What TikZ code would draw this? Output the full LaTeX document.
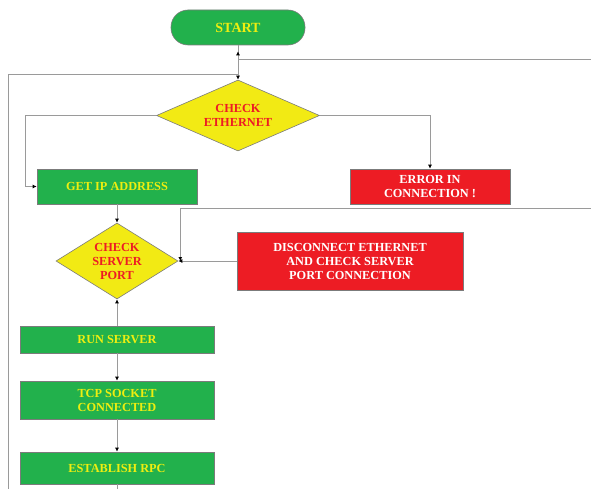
\documentclass[tikz,border=0pt]{standalone}
\usepackage{fontspec}
\setmainfont{Liberation Serif}
\usetikzlibrary{shapes.geometric,arrows.meta}
\definecolor{gbox}{HTML}{22B14C}
\definecolor{rbox}{HTML}{ED1C24}
\definecolor{ydia}{HTML}{F2EA14}
\definecolor{ytxt}{HTML}{EEEE10}
\definecolor{lgray}{HTML}{9A9A9A}
\tikzset{
  base/.style={draw=lgray!80!black, line width=0.6pt, font=\bfseries\fontsize{12.3}{14}\selectfont, align=center, inner sep=0pt},
  greenbox/.style={base, rectangle, fill=gbox, text=ytxt},
  redbox/.style={base, rectangle, fill=rbox, text=white},
  dia/.style={base, diamond, fill=ydia, text=rbox},
  conn/.style={draw=lgray, line width=1pt},
  arr/.style={conn, -{Latex[length=4pt,width=4pt,color=black]}}
}
\begin{document}
\begin{tikzpicture}[x=1pt,y=-1pt]
\useasboundingbox (0,0) rectangle (591,489);
\node[greenbox, rounded corners=17pt, minimum width=134pt, minimum height=35pt, font=\bfseries\fontsize{14}{16}\selectfont] (start) at (238,27.5) {START};
\node[dia, minimum width=163pt, minimum height=71pt, aspect=2.3] (eth) at (238,115.5) {CHECK\\ETHERNET};
\node[greenbox, minimum width=160pt, minimum height=35pt] (get) at (117,186.5) {GET IP ADDRESS};
\node[redbox, minimum width=160pt, minimum height=35pt] (err) at (430,186.5) {ERROR IN\\CONNECTION !};
\node[dia, minimum width=122pt, minimum height=76pt, aspect=1.6] (srv) at (117,261) {CHECK\\SERVER\\PORT};
\node[redbox, minimum width=226pt, minimum height=58pt] (dis) at (350,261) {DISCONNECT ETHERNET\\AND CHECK SERVER\\PORT CONNECTION};
\node[greenbox, minimum width=194pt, minimum height=27pt] (run) at (117,339.5) {RUN SERVER};
\node[greenbox, minimum width=194pt, minimum height=38pt] (tcp) at (117,400) {TCP SOCKET\\CONNECTED};
\node[greenbox, minimum width=194pt, minimum height=32pt] (rpc) at (117,468) {ESTABLISH RPC};
\coordinate (rtop) at (591,60);
\coordinate (rjoin) at (238,60);
\coordinate (ljoin) at (238,75);
\coordinate (lbot) at (8,489);
\coordinate (rmid) at (591,208.5);
\coordinate (cbot) at (117,489);
\coordinate (lget) at (25,186.5);
% connectors
\draw[arr] (start.south) -- (eth.north);
\draw[arr, shorten >=6pt] (rtop) -- (rjoin) -- (start.south);
\draw[conn] (lbot) |- (ljoin);
\draw[arr] (eth.west) -| (lget) -- (get.west);
\draw[arr] (eth.east) -| (err.north);
\draw[arr] (get.south) -- (srv.north);
\draw[arr] (rmid) -| ([xshift=2pt]srv.east);
\draw[arr] (dis.west) -- (srv.east);
\draw[arr] (run.north) -- (srv.south);
\draw[arr] (run.south) -- (tcp.north);
\draw[arr] (tcp.south) -- (rpc.north);
\draw[conn] (rpc.south) -- (cbot);
\end{tikzpicture}
\end{document}
